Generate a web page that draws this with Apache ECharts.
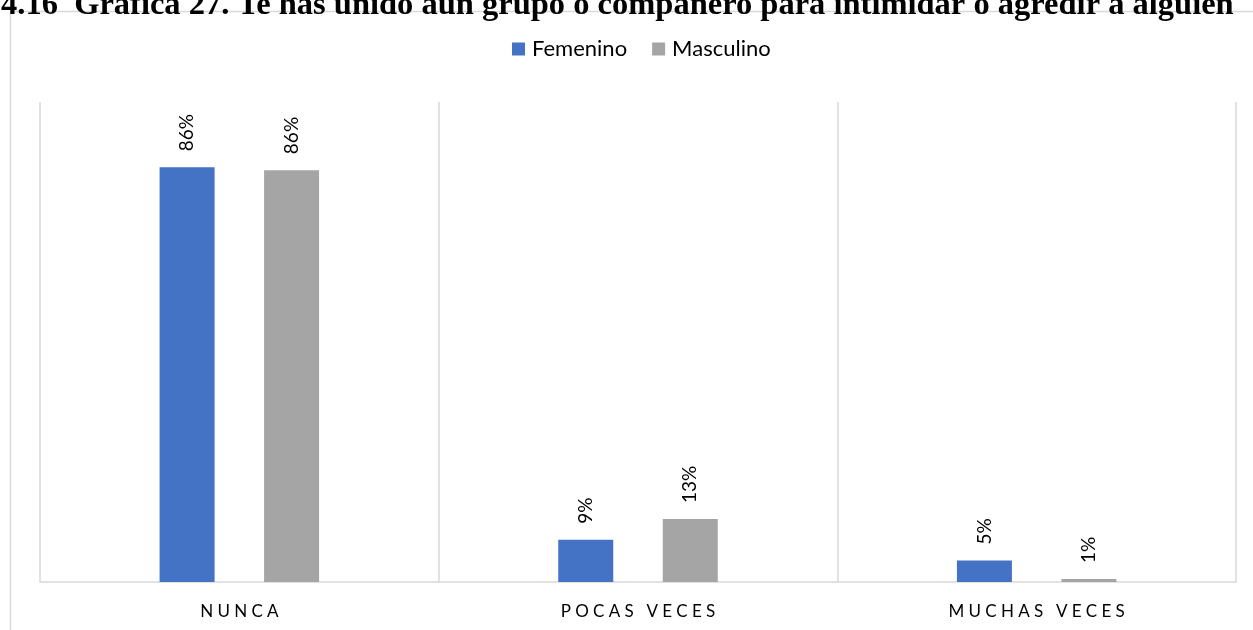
<!DOCTYPE html>
<html>
<head>
<meta charset="utf-8">
<script src="https://cdn.jsdelivr.net/npm/echarts@6/dist/echarts.min.js"></script>
<style>
html,body{margin:0;padding:0;background:#fff;}
#chart{width:1253px;height:630px;}
</style>
</head>
<body>
<div id="chart"></div>
<script>
const titleText = "4.16  Gráfica 27. Te has unido aun grupo o compañero para intimidar o agredir a alguien";
const categories = ["NUNCA", "POCAS VECES", "MUCHAS VECES"];
const seriesNames = ["Femenino", "Masculino"];
const femenino = [86.4, 8.8, 4.5];
const masculino = [85.8, 13.1, 0.6];
const colors = ["#4472c4", "#a5a5a5"];

const FONT = "Lato";
function spaced(s) {
  return s.split("").join("\u2005");
}

const chart = echarts.init(document.getElementById("chart"), null, {renderer: "canvas"});
const labelCfg = {
  show: true,
  position: "top",
  rotate: 90,
  align: "left",
  verticalAlign: "middle",
  distance: 16,
  fontFamily: FONT,
  fontSize: 19,
  color: "#000",
  formatter: p => Math.round(p.value) + "%"
};
chart.setOption({
  backgroundColor: "#fff",
  animation: false,
  graphic: [
    {
      type: "rect",
      shape: {x: 10.5, y: 11.5, width: 1300, height: 700},
      style: {fill: "none", stroke: "#d9d9d9", lineWidth: 1.5},
      silent: true, z: -1
    },
    {
      type: "text",
      x: 1, y: 22,
      style: {
        text: titleText,
        font: 'bold 32.5px "Liberation Serif"',
        fill: "#000",
        verticalAlign: "bottom",
        align: "left"
      },
      silent: true
    }
  ],
  legend: {
    top: 33,
    left: 507,
    itemWidth: 13,
    itemHeight: 13,
    itemGap: 25,
    icon: "rect",
    textStyle: {fontFamily: FONT, fontSize: 22, color: "#000", padding: [0, 0, 0, 2]},
    data: seriesNames
  },
  grid: {left: 40, right: 17, top: 102, bottom: 48, containLabel: false},
  xAxis: {
    type: "category",
    data: categories,
    boundaryGap: true,
    axisLine: {show: true, lineStyle: {color: "#d9d9d9", width: 1.5}},
    axisTick: {show: false},
    splitLine: {show: true, lineStyle: {color: "#d9d9d9", width: 1.5}},
    axisLabel: {
      margin: 21,
      fontFamily: FONT,
      fontSize: 17,
      color: "#000",
      formatter: v => spaced(v)
    }
  },
  yAxis: {
    type: "value",
    min: 0,
    max: 100,
    show: false,
    splitLine: {show: false}
  },
  series: [
    {
      name: seriesNames[0], type: "bar", data: femenino,
      barWidth: 55, barGap: "90%",
      itemStyle: {color: colors[0]},
      label: labelCfg
    },
    {
      name: seriesNames[1], type: "bar", data: masculino,
      barWidth: 55,
      itemStyle: {color: colors[1]},
      label: labelCfg
    }
  ]
});
</script>
</body>
</html>
